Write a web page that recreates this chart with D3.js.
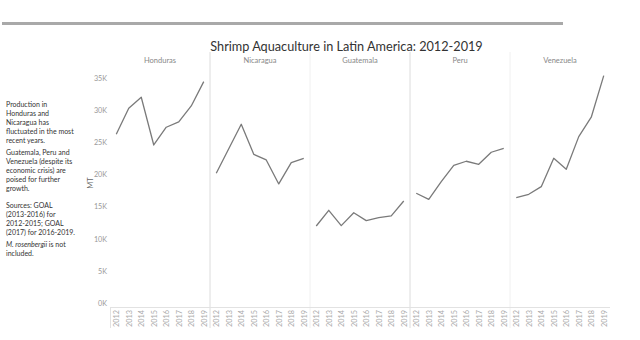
<!DOCTYPE html>
<html><head><meta charset="utf-8">
<script src="https://cdn.jsdelivr.net/npm/d3@7"></script>
<style>body{margin:0;background:#fff}svg{display:block}</style>
</head><body>
<svg id="c" width="640" height="340"></svg>
<script>
const years = ["2012","2013","2014","2015","2016","2017","2018","2019"];
const countries = ["Honduras","Nicaragua","Guatemala","Peru","Venezuela"];
const honduras  = [26250,30300,32000,24580,27340,28160,30650,34440];
const nicaragua = [20180,24000,27800,23130,22250,18520,21830,22510];
const guatemala = [11980,14420,12030,14050,12810,13270,13540,15870];
const peru      = [17070,16130,18880,21420,22050,21580,23450,24070];
const venezuela = [16390,16910,18100,22510,20800,25880,28900,35370];
const yTicks = [0,5000,10000,15000,20000,25000,30000,35000];
const title = "Shrimp Aquaculture in Latin America: 2012-2019";
const paragraphs = [
  [["Production in"],["Honduras and"],["Nicaragua has"],["fluctuated in the most"],["recent years."]],
  [["Guatemala, Peru and"],["Venezuela (despite its"],["economic crisis) are"],["poised for further"],["growth."]],
  [["Sources: GOAL"],["(2013-2016) for"],["2012-2015; GOAL"],["(2017) for 2016-2019."]],
  [["M. rosenbergii"," is not"],["included."]]
];
const series = [honduras,nicaragua,guatemala,peru,venezuela];

const svg = d3.select("#c");
const font = "Lato, 'Open Sans', sans-serif";
const L = 110, R = 610, T = 78, B = 303;

// top bar
svg.append("rect").attr("x",2).attr("y",22).attr("width",561).attr("height",3).attr("fill","#a9a9a9");

svg.append("text").attr("x",346.5).attr("y",50.5).attr("text-anchor","middle")
  .attr("font-family",font).attr("font-size",12.7).attr("fill","#333").text(title);

const y = d3.scaleLinear().domain([0,35000]).range([B,T]);
const panel = d3.scaleBand().domain(countries).range([L,R]);

// y axis
const yAxis = svg.append("g").attr("transform",`translate(${L},0)`)
  .call(d3.axisLeft(y).tickValues(yTicks).tickFormat(d=>d/1000+"K").tickSize(0).tickPadding(3));
yAxis.select(".domain").remove();
yAxis.selectAll("text").attr("font-family",font).attr("font-size",7.2).attr("fill","#999");

svg.append("text").attr("transform","translate(93,183) rotate(-90)").attr("text-anchor","middle")
  .attr("font-family",font).attr("font-size",7.5).attr("fill","#666").text("MT");

// dividers
countries.forEach((c,i)=>{
  if(i===0) return;
  const x = panel(c);
  svg.append("line").attr("x1",x).attr("x2",x).attr("y1",52).attr("y2",328)
    .attr("stroke", (i%2===1)?"#dcdcdc":"#f0f0f0").attr("stroke-width",1);
});
svg.append("line").attr("x1",L+0.5).attr("x2",L+0.5).attr("y1",307).attr("y2",328).attr("stroke","#e2e2e2");
svg.append("line").attr("x1",L).attr("x2",R).attr("y1",307.5).attr("y2",307.5).attr("stroke","#e2e2e2");

const line = d3.line().x(d=>d.x).y(d=>y(d.v));
countries.forEach((c,i)=>{
  const x = d3.scalePoint().domain(years).range([panel(c),panel(c)+panel.bandwidth()]).padding(0.5);
  svg.append("text").attr("x",panel(c)+panel.bandwidth()/2).attr("y",63).attr("text-anchor","middle")
    .attr("font-family",font).attr("font-size",7.5).attr("fill","#888").text(c);
  const pts = series[i].map((v,j)=>({x:x(years[j]),v}));
  svg.append("path").datum(pts).attr("d",line).attr("fill","none")
    .attr("stroke","#7a7a7a").attr("stroke-width",1.3).attr("stroke-linejoin","round");
  const xa = svg.append("g").attr("transform","translate(0,308)")
    .call(d3.axisBottom(x).tickSize(0).tickPadding(0));
  xa.select(".domain").remove();
  xa.selectAll("text").attr("transform","rotate(-90)").attr("text-anchor","end")
    .attr("x",-2).attr("y",0).attr("dy","0.32em")
    .attr("font-family",font).attr("font-size",7.3).attr("fill","#aaa");
});

// notes
const paraGap = [0, 11.2, 16.5, 12];
let yy = 107;
paragraphs.forEach((p,pi)=>{
  if(pi>0) yy += paraGap[pi] - 9.1;
  p.forEach(n=>{
    const t = svg.append("text").attr("x",6).attr("y",yy).attr("font-family",font).attr("font-size",7).attr("fill","#333");
    if(n.length===2){
      t.append("tspan").attr("font-style","italic").text(n[0]);
      t.append("tspan").text(n[1]);
    } else t.text(n[0]);
    yy += 9.1;
  });
});
</script>
</body></html>
